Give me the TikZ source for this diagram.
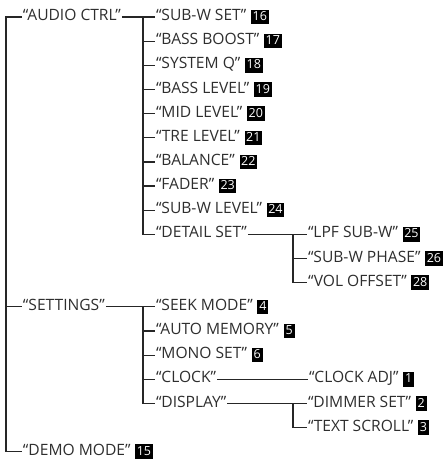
\documentclass[tikz,border=0pt]{standalone}
\usepackage{fontspec}
\setmainfont{Open Sans}
\begin{document}
\begin{tikzpicture}[x=1pt,y=-1pt,
  lbl/.style={anchor=west, inner xsep=0.8pt, inner ysep=0pt, text height=0.72em, text depth=0pt, text=black!82, font=\fontsize{15.6}{18}\selectfont},
  badge/.style={anchor=west, fill=black, text=white, inner xsep=1.6pt, inner ysep=0pt, minimum height=14.5pt, minimum width=11pt, text height=0.72em, text depth=0pt, font=\fontsize{12.5}{13}\selectfont, xshift=3.5pt},
  conn/.style={line width=1.2pt, draw=black!85}]
\useasboundingbox (0,0) rectangle (445,467);
% level 1
\node[lbl] (audio) at (22,17) {“AUDIO CTRL”};
\node[lbl] (settings) at (22,306.8) {“SETTINGS”};
\node[lbl] (demo) at (22,451.7) {“DEMO MODE”};
\node[badge] (b15) at (demo.east) {15};
% audio children
\node[lbl] (subwset) at (155,17) {“SUB-W SET”};
\node[badge] (b16) at (subwset.east) {16};
\node[lbl] (bassboost) at (155,41.15) {“BASS BOOST”};
\node[badge] (b17) at (bassboost.east) {17};
\node[lbl] (systemq) at (155,65.3) {“SYSTEM Q”};
\node[badge] (b18) at (systemq.east) {18};
\node[lbl] (basslevel) at (155,89.45) {“BASS LEVEL”};
\node[badge] (b19) at (basslevel.east) {19};
\node[lbl] (midlevel) at (155,113.6) {“MID LEVEL”};
\node[badge] (b20) at (midlevel.east) {20};
\node[lbl] (trelevel) at (155,137.75) {“TRE LEVEL”};
\node[badge] (b21) at (trelevel.east) {21};
\node[lbl] (balance) at (155,161.9) {“BALANCE”};
\node[badge] (b22) at (balance.east) {22};
\node[lbl] (fader) at (155,186.05) {“FADER”};
\node[badge] (b23) at (fader.east) {23};
\node[lbl] (subwlevel) at (155,210.2) {“SUB-W LEVEL”};
\node[badge] (b24) at (subwlevel.east) {24};
\node[lbl] (detail) at (155,234.35) {“DETAIL SET”};
% detail children
\node[lbl] (lpf) at (307,234.35) {“LPF SUB-W”};
\node[badge] (b25) at (lpf.east) {25};
\node[lbl] (phase) at (307,258.5) {“SUB-W PHASE”};
\node[badge] (b26) at (phase.east) {26};
\node[lbl] (voloff) at (307,282.65) {“VOL OFFSET”};
\node[badge] (b28) at (voloff.east) {28};
% settings children
\node[lbl] (seek) at (155,306.8) {“SEEK MODE”};
\node[badge] (b4) at (seek.east) {4};
\node[lbl] (automem) at (155,330.95) {“AUTO MEMORY”};
\node[badge] (b5) at (automem.east) {5};
\node[lbl] (mono) at (155,355.1) {“MONO SET”};
\node[badge] (b6) at (mono.east) {6};
\node[lbl] (clock) at (155,379.25) {“CLOCK”};
\node[lbl] (display) at (155,403.4) {“DISPLAY”};
\node[lbl] (clockadj) at (308,379.25) {“CLOCK ADJ”};
\node[badge] (b1) at (clockadj.east) {1};
\node[lbl] (dimmer) at (307,403.4) {“DIMMER SET”};
\node[badge] (b2) at (dimmer.east) {2};
\node[lbl] (scroll) at (307,427.55) {“TEXT SCROLL”};
\node[badge] (b3) at (scroll.east) {3};
% spines
\coordinate (sp1) at (6,17);
\coordinate (sp2) at (143,17);
\coordinate (sp3) at (293,234.35);
% level 1 connectors
\draw[conn] (audio.west) -- (sp1) |- (demo.west);
\draw[conn] (sp1 |- settings.west) -- (settings.west);
% audio
\draw[conn] (audio.east) -- (subwset.west);
\draw[conn] (sp2) |- (detail.west);
\foreach \c in {bassboost,systemq,basslevel,midlevel,trelevel,balance,fader,subwlevel}
  \draw[conn] (sp2 |- \c.west) -- (\c.west);
% detail
\draw[conn] (detail.east) -- (lpf.west);
\draw[conn] (sp3) |- (voloff.west);
\draw[conn] (sp3 |- phase.west) -- (phase.west);
% settings
\draw[conn] (settings.east) -- (seek.west);
\draw[conn] (sp2 |- seek.west) |- (display.west);
\foreach \c in {automem,mono,clock}
  \draw[conn] (sp2 |- \c.west) -- (\c.west);
\draw[conn] (clock.east) -- (clockadj.west);
% display
\draw[conn] (display.east) -- (dimmer.west);
\draw[conn] (sp3 |- dimmer.west) |- (scroll.west);
\end{tikzpicture}
\end{document}
